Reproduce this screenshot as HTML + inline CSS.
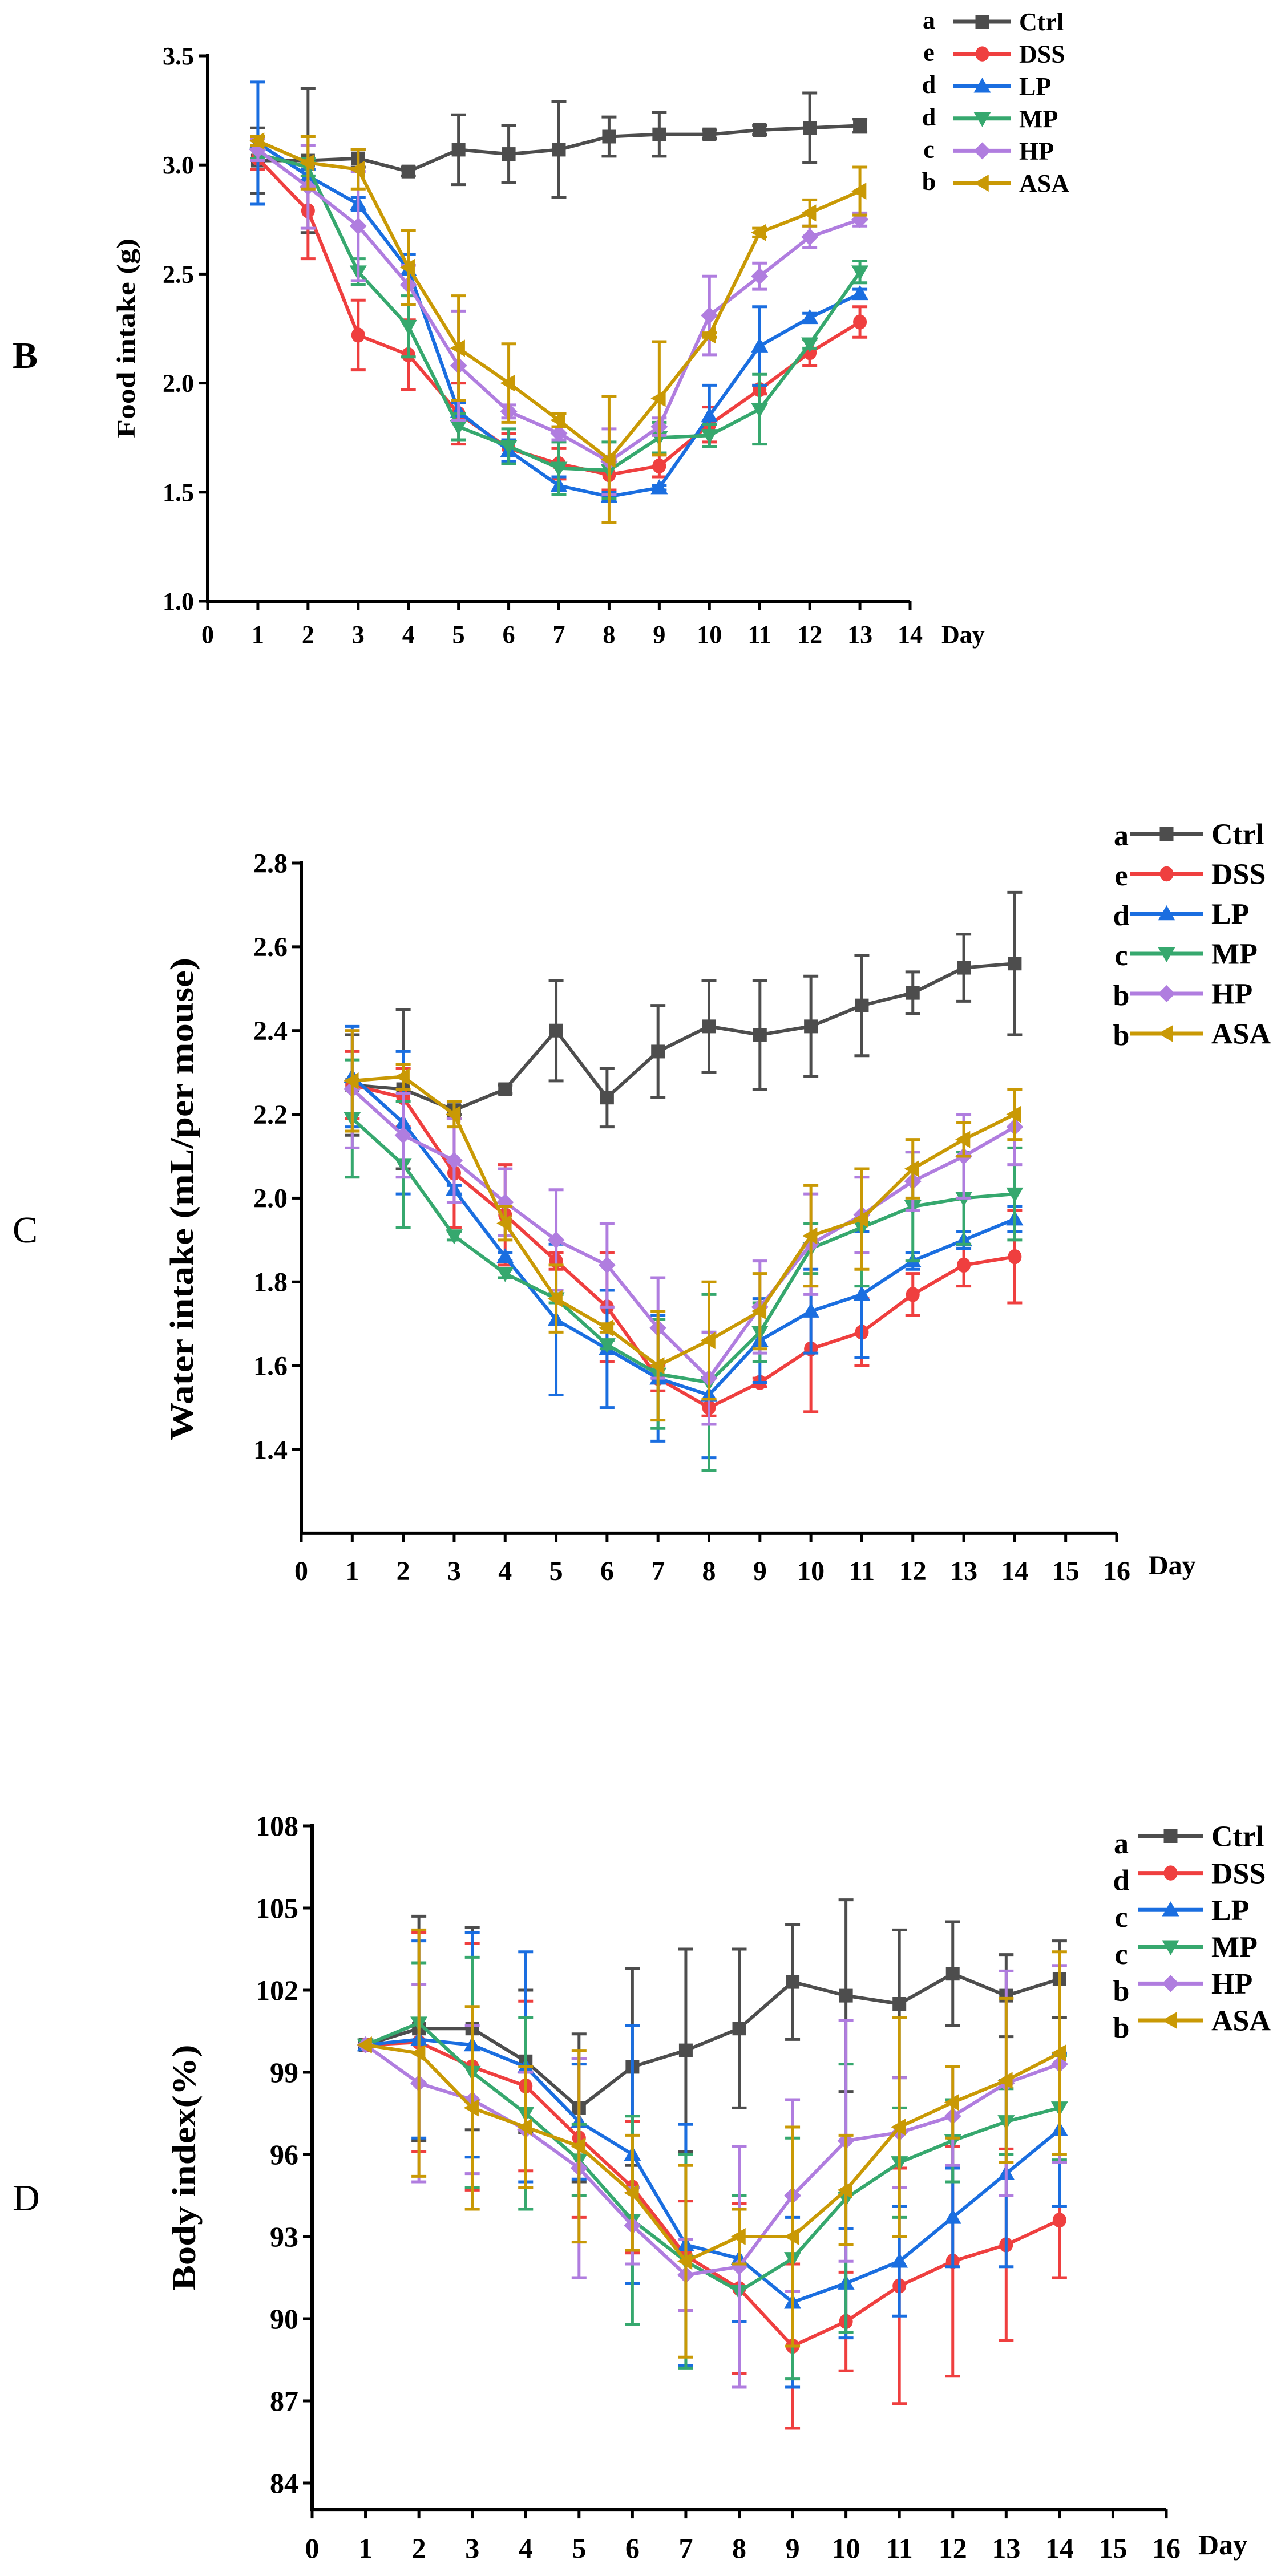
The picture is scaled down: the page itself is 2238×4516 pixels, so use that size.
<!DOCTYPE html>
<html><head><meta charset="utf-8">
<style>
html,body{margin:0;padding:0;background:#fff;}
svg{display:block;}
text{font-family:"Liberation Serif",serif;fill:#000;}
</style></head>
<body>
<svg id="root" width="2238" height="4516" viewBox="0 0 2238 4516" xmlns="http://www.w3.org/2000/svg"></svg>
<script>
const NS="http://www.w3.org/2000/svg";
const root=document.getElementById('root');
const seriesNames=["Ctrl","DSS","LP","MP","HP","ASA"];
const seriesColors=["#4d4d4d","#ef3f3f","#1a6ee0","#36a86e","#b07ddf","#c99905"];
const seriesMarkers=["square","circle","up","down","diamond","left"];

// Chart B: food intake
const foodDays=[1,2,3,4,5,6,7,8,9,10,11,12,13];
const foodCtrl=[3.02,3.02,3.03,2.97,3.07,3.05,3.07,3.13,3.14,3.14,3.16,3.17,3.18];
const foodDSS=[3.03,2.79,2.22,2.13,1.86,1.70,1.63,1.58,1.62,1.81,1.97,2.14,2.28];
const foodLP=[3.10,2.95,2.82,2.52,1.87,1.69,1.53,1.48,1.52,1.85,2.17,2.30,2.41];
const foodMP=[3.05,2.99,2.51,2.26,1.80,1.71,1.61,1.60,1.75,1.76,1.88,2.18,2.51];
const foodHP=[3.07,2.90,2.72,2.45,2.08,1.87,1.77,1.64,1.80,2.31,2.49,2.67,2.75];
const foodASA=[3.11,3.01,2.98,2.53,2.16,2.00,1.83,1.65,1.93,2.22,2.69,2.78,2.88];
const foodCtrlErr=[0.15,0.33,0.04,0.02,0.16,0.13,0.22,0.09,0.10,0.02,0.02,0.16,0.03];
const foodDSSErr=[0.05,0.22,0.16,0.16,0.14,0.07,0.07,0.07,0.05,0.08,0.02,0.06,0.07];
const foodLPErr=[0.28,0.03,0.03,0.07,0.04,0.05,0.04,0.02,0.01,0.14,0.18,0.02,0.02];
const foodMPErr=[0.02,0.04,0.06,0.14,0.06,0.08,0.12,0.13,0.07,0.05,0.16,0.02,0.05];
const foodHPErr=[0.05,0.19,0.25,0.09,0.25,0.03,0.03,0.15,0.04,0.18,0.06,0.05,0.03];
const foodASAErr=[0.02,0.12,0.09,0.17,0.24,0.18,0.03,0.29,0.26,0.01,0.02,0.06,0.11];
const foodLetters=["a","e","d","d","c","b"];
const foodYTicks=["1.0","1.5","2.0","2.5","3.0","3.5"];
const foodXTicks=["0","1","2","3","4","5","6","7","8","9","10","11","12","13","14"];

// Chart C: water intake
const waterDays=[1,2,3,4,5,6,7,8,9,10,11,12,13,14];
const waterCtrl=[2.27,2.26,2.21,2.26,2.40,2.24,2.35,2.41,2.39,2.41,2.46,2.49,2.55,2.56];
const waterDSS=[2.27,2.24,2.06,1.96,1.85,1.74,1.57,1.50,1.56,1.64,1.68,1.77,1.84,1.86];
const waterLP=[2.29,2.18,2.02,1.86,1.71,1.64,1.57,1.53,1.66,1.73,1.77,1.85,1.90,1.95];
const waterMP=[2.19,2.08,1.91,1.82,1.76,1.65,1.58,1.56,1.68,1.88,1.93,1.98,2.00,2.01];
const waterHP=[2.26,2.15,2.09,1.99,1.90,1.84,1.69,1.57,1.74,1.89,1.96,2.04,2.10,2.17];
const waterASA=[2.28,2.29,2.20,1.94,1.76,1.69,1.60,1.66,1.73,1.91,1.95,2.07,2.14,2.20];
const waterCtrlErr=[0.12,0.19,0.01,0.01,0.12,0.07,0.11,0.11,0.13,0.12,0.12,0.05,0.08,0.17];
const waterDSSErr=[0.08,0.07,0.13,0.12,0.02,0.13,0.03,0.02,0.01,0.15,0.08,0.05,0.05,0.11];
const waterLPErr=[0.12,0.17,0.01,0.01,0.18,0.14,0.15,0.15,0.10,0.10,0.15,0.02,0.02,0.03];
const waterMPErr=[0.14,0.15,0.01,0.01,0.01,0.01,0.13,0.21,0.07,0.06,0.14,0.13,0.11,0.11];
const waterHPErr=[0.14,0.10,0.10,0.08,0.12,0.10,0.12,0.11,0.11,0.12,0.09,0.07,0.10,0.09];
const waterASAErr=[0.12,0.03,0.03,0.04,0.08,0.01,0.13,0.14,0.09,0.12,0.12,0.07,0.04,0.06];
const waterLetters=["a","e","d","c","b","b"];
const waterYTicks=["1.4","1.6","1.8","2.0","2.2","2.4","2.6","2.8"];
const waterXTicks=["0","1","2","3","4","5","6","7","8","9","10","11","12","13","14","15","16"];

// Chart D: body index
const bodyDays=[1,2,3,4,5,6,7,8,9,10,11,12,13,14];
const bodyCtrl=[100,100.6,100.6,99.4,97.7,99.2,99.8,100.6,102.3,101.8,101.5,102.6,101.8,102.4];
const bodyDSS=[100,100.1,99.2,98.5,96.6,94.8,92.3,91.1,89.0,89.9,91.2,92.1,92.7,93.6];
const bodyLP=[100,100.2,100.0,99.2,97.2,96.0,92.7,92.2,90.6,91.3,92.1,93.7,95.3,96.9];
const bodyMP=[100,100.8,99.0,97.5,95.8,93.6,92.1,91.0,92.2,94.4,95.7,96.5,97.2,97.7];
const bodyHP=[100,98.6,98.0,96.9,95.5,93.4,91.6,91.9,94.5,96.5,96.8,97.4,98.6,99.3];
const bodyASA=[100,99.7,97.7,97.0,96.3,94.6,92.1,93.0,93.0,94.7,97.0,97.9,98.7,99.7];
const bodyCtrlErr=[0.1,4.1,3.7,2.6,2.7,3.6,3.7,2.9,2.1,3.5,2.7,1.9,1.5,1.4];
const bodyDSSErr=[0,4.0,4.5,3.1,2.9,2.4,2.0,3.1,3.0,1.8,4.3,4.2,3.5,2.1];
const bodyLPErr=[0,3.6,4.1,4.2,2.1,4.7,4.4,2.3,3.1,2.0,2.0,1.8,3.4,2.8];
const bodyMPErr=[0,2.2,4.2,3.5,1.3,3.8,3.9,3.5,4.4,4.9,2.0,1.5,1.2,1.9];
const bodyHPErr=[0,3.6,2.7,2.1,4.0,1.4,1.3,4.4,3.5,4.4,2.0,1.8,4.1,3.6];
const bodyASAErr=[0,4.5,3.7,2.2,3.5,2.1,3.5,1.0,4.0,2.0,4.0,1.3,3.0,3.7];
const bodyLetters=["a","d","c","c","b","b"];
const bodyYTicks=["84","87","90","93","96","99","102","105","108"];
const bodyXTicks=["0","1","2","3","4","5","6","7","8","9","10","11","12","13","14","15","16"];

function mk(tag,attrs,parent){const e=document.createElementNS(NS,tag);for(const k in attrs)e.setAttribute(k,attrs[k]);(parent||root).appendChild(e);return e;}

function marker(g,type,x,y,r,color){
  let e;
  if(type==="square") e=mk('rect',{x:x-r,y:y-r,width:2*r,height:2*r,fill:color},g);
  else if(type==="circle") e=mk('ellipse',{cx:x,cy:y,rx:r,ry:r*1.1,fill:color},g);
  else { let p;
    const R=r*1.25;
    if(type==="up") p=[[x,y-R],[x+R,y+R*0.75],[x-R,y+R*0.75]];
    else if(type==="down") p=[[x,y+R],[x+R,y-R*0.75],[x-R,y-R*0.75]];
    else if(type==="diamond") p=[[x,y-R],[x+R,y],[x,y+R],[x-R,y]];
    else p=[[x-R,y],[x+R*0.75,y-R],[x+R*0.75,y+R]];
    e=mk('polygon',{points:p.map(q=>q.join(',')).join(' '),fill:color},g);
  }
  return e;
}

function chart(cfg){
  const g=mk('g',{});
  
  
  const X=v=>cfg.x0+(v-cfg.xmin)/(cfg.xmax-cfg.xmin)*(cfg.x1-cfg.x0);
  const Y=v=>cfg.yTop+(cfg.ymax-v)/(cfg.ymax-cfg.yTickMin)*(cfg.yTickMinPx-cfg.yTop);
  // panel label
  const pl=mk('text',{x:cfg.panelX,y:cfg.panelY,'font-size':cfg.panelSize,'font-weight':cfg.panelBold?'bold':'normal','font-family':cfg.panelSans?'"Liberation Sans",sans-serif':'"Liberation Serif",serif'},g);
  pl.textContent=cfg.panel;
  
  
  // y axis title
  const yt=mk('text',{x:0,y:0,'font-size':cfg.titleSize,'font-weight':'bold','text-anchor':'middle',transform:`translate(${cfg.titleX},${cfg.titleY}) rotate(-90)`,textLength:cfg.titleLen,lengthAdjust:'spacingAndGlyphs'},g);
  yt.textContent=cfg.title;
  
  
  // axes
  const axisBottom=Y(cfg.ymin);
  const ax=mk('path',{d:`M${cfg.x0},${cfg.yTop-3} V${axisBottom} H${cfg.x1}`,stroke:'#000','stroke-width':6,fill:'none'},g);
  
  
  cfg.yTicks.forEach(t=>{
    const v=parseFloat(t),y=Y(v);
    mk('line',{x1:cfg.x0-16,x2:cfg.x0,y1:y,y2:y,stroke:'#000','stroke-width':5},g);
    const tx=mk('text',{x:cfg.x0-24,y:y+cfg.tickSize*0.34,'font-size':cfg.tickSize,'font-weight':'bold','text-anchor':'end'},g);
    tx.textContent=t;
    
    
  });
  cfg.xTicks.forEach(t=>{
    const v=parseFloat(t),x=X(v);
    mk('line',{x1:x,x2:x,y1:axisBottom,y2:axisBottom+16,stroke:'#000','stroke-width':5},g);
    const tx=mk('text',{x:x,y:cfg.xLabelY,'font-size':cfg.tickSize,'font-weight':'bold','text-anchor':'middle'},g);
    tx.textContent=t;
    
    
  });
  const dl=mk('text',{x:cfg.dayX,y:cfg.dayY,'font-size':cfg.tickSize,'font-weight':'bold'},g);
  dl.textContent='Day';
  
  
  // series
  cfg.series.forEach((vals,i)=>{
    const sg=mk('g',{},g);
    
    
    const col=seriesColors[i], errs=cfg.errs[i];
    vals.forEach((v,j)=>{
      const x=X(cfg.days[j]),e=errs[j];
      if(e<=0) return;
      const y1=Y(v+e),y2=Y(v-e);
      const eb=mk('path',{d:`M${x},${y1} V${y2} M${x-13},${y1} H${x+13} M${x-13},${y2} H${x+13}`,stroke:col,'stroke-width':5,fill:'none'},sg);
      
      
    });
    const ln=mk('polyline',{points:vals.map((v,j)=>X(cfg.days[j])+','+Y(v)).join(' '),stroke:col,'stroke-width':6,fill:'none','stroke-linejoin':'round'},sg);
    
    
    vals.forEach((v,j)=>{
      const m=marker(sg,seriesMarkers[i],X(cfg.days[j]),Y(v),12,col);
      
      
    });
  });
  // legend
  const lg=mk('g',{},g);
  
  
  seriesNames.forEach((n,i)=>{
    const y=cfg.legY+i*cfg.legStep;
    const eg=mk('g',{},lg);
    
    
    const lt=mk('text',{x:cfg.legLetterX,y:y+cfg.legLetterDy,'font-size':cfg.legSize,'font-weight':'bold','text-anchor':'middle'},eg);
    lt.textContent=cfg.letters[i];
    mk('line',{x1:cfg.legLineX0,x2:cfg.legLineX1,y1:y,y2:y,stroke:seriesColors[i],'stroke-width':7},eg);
    marker(eg,seriesMarkers[i],(cfg.legLineX0+cfg.legLineX1)/2,y,12,seriesColors[i]);
    const tt=mk('text',{x:cfg.legTextX,y:y+cfg.legSize*0.34,'font-size':cfg.legSize,'font-weight':'bold'},eg);
    tt.textContent=n;
  });
}

chart({name:'food-intake-chart',panel:'B',panelX:22,panelY:645,panelSize:66,panelBold:true,
  title:'Food intake (g)',titleX:236,titleY:593,titleSize:46,titleLen:350,
  x0:364,x1:1595,xmin:0,xmax:14,yTop:98,ymax:3.5,ymin:1.0,yTickMin:1.0,yTickMinPx:1054,
  yTicks:foodYTicks,xTicks:foodXTicks,xLabelY:1127,tickSize:44,dayX:1650,dayY:1127,
  days:foodDays,series:[foodCtrl,foodDSS,foodLP,foodMP,foodHP,foodASA],
  errs:[foodCtrlErr,foodDSSErr,foodLPErr,foodMPErr,foodHPErr,foodASAErr],letters:foodLetters,
  legY:38,legStep:56.6,legLetterX:1628,legLetterDy:12,legLineX0:1671,legLineX1:1772,legTextX:1786,legSize:44});

chart({name:'water-intake-chart',panel:'C',panelX:22,panelY:2178,panelSize:66,panelBold:false,panelSans:false,
  title:'Water intake (mL/per mouse)',titleX:338,titleY:2102,titleSize:58,titleLen:846,
  x0:528,x1:1957,xmin:0,xmax:16,yTop:1513,ymax:2.8,ymin:1.2,yTickMin:1.4,yTickMinPx:2541,
  yTicks:waterYTicks,xTicks:waterXTicks,xLabelY:2770,tickSize:48,dayX:2013,dayY:2760,
  days:waterDays,series:[waterCtrl,waterDSS,waterLP,waterMP,waterHP,waterASA],
  errs:[waterCtrlErr,waterDSSErr,waterLPErr,waterMPErr,waterHPErr,waterASAErr],letters:waterLetters,
  legY:1462,legStep:70,legLetterX:1965,legLetterDy:20,legLineX0:1980,legLineX1:2109,legTextX:2123,legSize:52});

chart({name:'body-index-chart',panel:'D',panelX:22,panelY:3875,panelSize:66,panelBold:false,
  title:'Body index(%)',titleX:342,titleY:3800,titleSize:58,titleLen:431,
  x0:547,x1:2044,xmin:0,xmax:16,yTop:3201,ymax:108,ymin:83.04,yTickMin:84,yTickMinPx:4353,
  yTicks:bodyYTicks,xTicks:bodyXTicks,xLabelY:4484,tickSize:50,dayX:2100,dayY:4478,
  days:bodyDays,series:[bodyCtrl,bodyDSS,bodyLP,bodyMP,bodyHP,bodyASA],
  errs:[bodyCtrlErr,bodyDSSErr,bodyLPErr,bodyMPErr,bodyHPErr,bodyASAErr],letters:bodyLetters,
  legY:3219,legStep:64.6,legLetterX:1965,legLetterDy:30,legLineX0:1994,legLineX1:2109,legTextX:2123,legSize:52});
</script>
</body></html>
